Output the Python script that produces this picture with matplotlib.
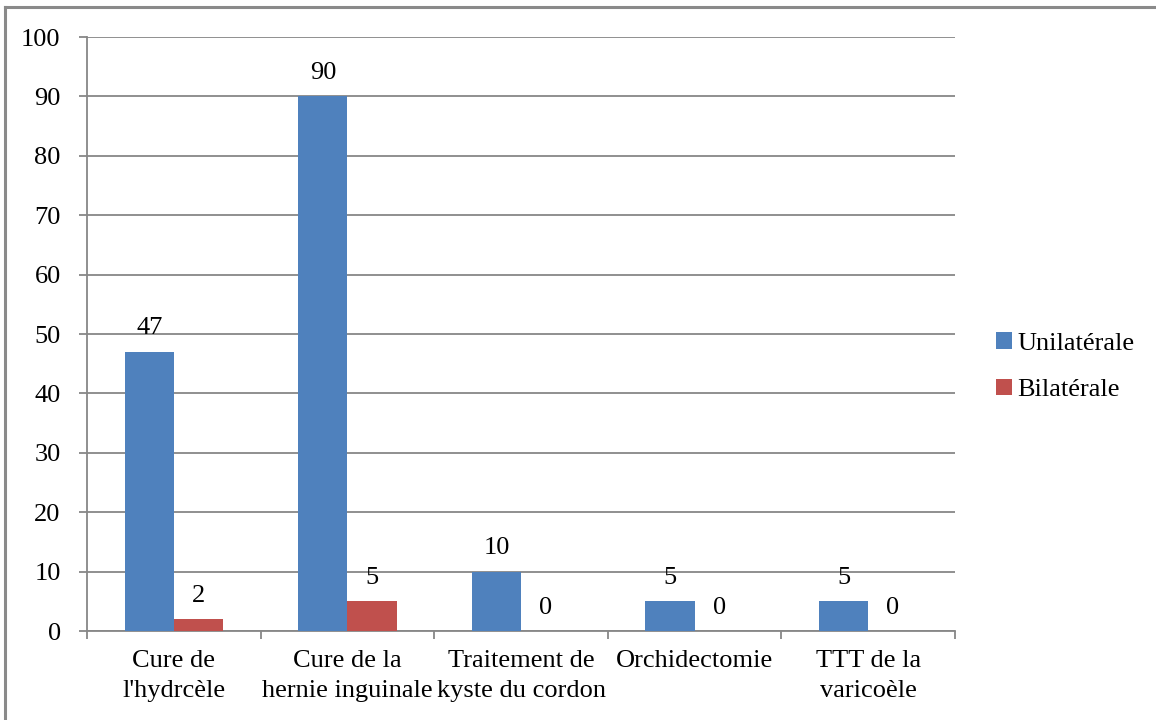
import numpy as np
import matplotlib
matplotlib.use('Agg')
import matplotlib.pyplot as plt
from matplotlib.lines import Line2D

plt.rcParams['font.family'] = ['Liberation Serif', 'DejaVu Serif']

# data
categories = ["Cure de\nl'hydrcèle", "Cure de la\nhernie inguinale",
              "Traitement de\nkyste du cordon", "Orchidectomie",
              "TTT de la\nvaricoèle"]
unilaterale = [47, 90, 10, 5, 5]
bilaterale = [2, 5, 0, 0, 0]
series_names = ['Unilatérale', 'Bilatérale']
yticks = list(range(0, 101, 10))

blue = '#4F81BD'
red = '#C0504D'
grid_col = '#878787'
fs = 19

fig = plt.figure(figsize=(11.56, 7.2), dpi=100)
ax = fig.add_axes([0.0753, 0.1236, 0.7508, 0.825])

x = np.arange(len(categories))
w = 0.283
b1 = ax.bar(x - w / 2, unilaterale, w, color=blue, label=series_names[0], zorder=3)
b2 = ax.bar(x + w / 2, bilaterale, w, color=red, label=series_names[1], zorder=3)

for bars, vals in [(b1, unilaterale), (b2, bilaterale)]:
    for r, v in zip(bars, vals):
        ax.annotate(str(v), (r.get_x() + r.get_width() / 2, v),
                    xytext=(0, 9), textcoords='offset points',
                    ha='center', va='bottom', fontsize=fs)

ax.set_xlim(-0.5, len(categories) - 0.5)
ax.set_ylim(0, 100)
ax.set_yticks(yticks)
ax.yaxis.grid(True, color=grid_col, linewidth=1.3, zorder=0)
ax.set_axisbelow(True)

# category separators as ticks
ax.set_xticks(np.arange(len(categories) + 1) - 0.5)
ax.set_xticklabels([])
ax.set_xticks(x, minor=True)
ax.set_xticklabels(categories, minor=True, fontsize=fs, linespacing=1.45)
ax.tick_params(axis='x', which='minor', length=0, pad=14)
ax.tick_params(axis='x', which='major', length=6, color=grid_col, width=1.3)
ax.tick_params(axis='y', length=6, color=grid_col, width=1.3, pad=13, labelsize=fs)

for s in ['top', 'right']:
    ax.spines[s].set_visible(False)
for s in ['left', 'bottom']:
    ax.spines[s].set_color(grid_col)
    ax.spines[s].set_linewidth(1.3)

ax.legend(loc='center left', bbox_to_anchor=(1.02, 0.445), frameon=False,
          fontsize=fs, handlelength=0.6, handleheight=0.6,
          handletextpad=0.2, labelspacing=0.9)

# outer frame (only top and left visible)
fig.add_artist(Line2D([0.0045, 0.0045], [0, 0.990], color='#8a8a8a', lw=2.2))
fig.add_artist(Line2D([0.0045, 1.0], [0.990, 0.990], color='#8a8a8a', lw=2.2))

fig.savefig('out.png', dpi=100)
